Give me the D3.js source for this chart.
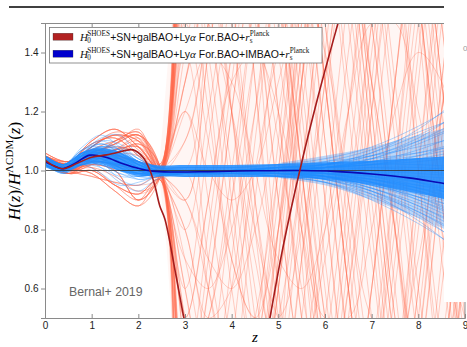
<!DOCTYPE html>
<html><head><meta charset="utf-8">
<script src="https://cdn.jsdelivr.net/npm/d3@7"></script>
<style>html,body{margin:0;padding:0;background:#fff;} svg{display:block;} text{white-space:pre;}</style>
</head><body>
<svg id="chart" width="467" height="347"></svg>
<script>
// ---- reconstruction knots (redshift grid) ----
const zBlue = [0, 0.4, 0.8, 1.2, 1.6, 2.0, 2.4, 3, 4, 5, 6, 7, 8, 9];
const zRed  = [0, 0.5, 1, 1.5, 2, 2.45, 3, 3.5, 4, 4.5, 5, 5.5, 6, 6.5, 7, 7.5, 8, 8.5, 9];

// posterior samples, H0(SHOES)+SN+galBAO+Lya+IMBAO+rs(Planck)
const blueSamples = [
  [1.04,1.01,1.05,1.07,1.05,1.02,1.00,1.00,1.00,1.01,1.02,1.05,1.10,1.16],
  [1.02,1.00,1.03,1.04,1.01,0.99,0.99,0.99,0.99,0.99,0.98,0.95,0.90,0.84],
  [1.05,1.02,1.07,1.09,1.06,1.03,1.01,1.01,1.01,1.02,1.04,1.08,1.15,1.24],
  [1.03,1.00,1.02,1.02,0.99,0.98,0.99,0.98,0.99,0.98,0.96,0.91,0.84,0.75],
  [1.04,1.01,1.06,1.08,1.07,1.03,1.00,1.00,1.00,1.00,1.00,1.00,0.99,0.98],
  [1.02,0.99,1.02,1.03,1.02,1.00,0.99,0.99,1.00,1.00,1.01,1.02,1.04,1.07],
  [1.03,1.01,1.04,1.06,1.01,0.97,0.98,0.99,0.99,0.99,0.99,0.97,0.93,0.88],
  [1.05,1.02,1.06,1.04,1.00,0.98,0.99,1.00,1.00,1.01,1.01,1.00,0.96,0.90],
  [1.03,1.00,1.05,1.10,1.09,1.04,1.01,1.00,1.00,1.00,0.99,0.97,0.95,0.93],
  [1.04,1.01,1.03,1.02,1.00,0.99,0.99,0.99,0.99,1.00,1.02,1.06,1.12,1.20],
  [1.02,1.00,1.04,1.05,1.04,1.01,1.00,0.99,0.99,0.98,0.97,0.94,0.88,0.80],
  [1.04,1.02,1.05,1.03,0.97,0.95,0.98,0.99,1.00,1.00,1.00,0.98,0.94,0.89],
  [1.03,1.01,1.06,1.11,1.12,1.05,1.01,1.00,1.00,1.01,1.01,1.02,1.03,1.05],
  [1.05,1.01,1.03,1.03,1.01,1.00,1.00,1.00,1.00,0.99,0.97,0.93,0.87,0.79],
  [1.03,1.00,1.04,1.06,1.04,1.02,1.00,1.00,1.00,1.01,1.03,1.07,1.13,1.19],
  [1.04,1.01,1.05,1.06,1.02,0.99,0.99,0.99,0.99,0.99,0.98,0.96,0.92,0.86],
  [1.02,0.99,1.03,1.05,1.06,1.03,1.00,1.00,1.00,1.00,1.00,0.99,0.97,0.94],
  [1.04,1.01,1.04,1.01,0.96,0.93,0.97,0.99,0.99,0.99,0.98,0.95,0.91,0.85],
  [1.05,1.02,1.06,1.07,1.05,1.03,1.01,1.01,1.01,1.01,1.02,1.04,1.06,1.09],
  [1.03,1.00,1.02,1.04,1.03,1.00,0.99,0.99,0.99,0.99,0.99,0.99,1.00,1.02],
  [1.04,1.01,1.05,1.07,1.06,1.01,0.99,0.99,1.00,1.00,0.98,0.93,0.85,0.74],
  [1.03,1.01,1.04,1.03,1.02,1.01,1.00,1.00,1.00,1.01,1.02,1.03,1.04,1.05],
  [1.04,1.00,1.06,1.09,1.07,1.02,1.00,0.99,0.99,0.99,0.98,0.96,0.93,0.89],
  [1.02,1.00,1.02,1.01,0.98,0.98,0.99,1.00,1.00,1.00,1.01,1.04,1.09,1.16],
  [1.05,1.02,1.07,1.08,1.04,1.00,0.99,0.99,0.99,0.98,0.96,0.92,0.86,0.78],
  [1.03,1.01,1.04,1.05,1.03,1.00,0.99,1.00,1.00,1.00,1.00,1.01,1.01,1.00],
  [1.04,1.01,1.05,1.06,1.05,1.02,1.00,0.99,0.99,0.99,0.99,0.98,0.97,0.96],
  [1.03,1.00,1.03,1.02,0.99,0.97,0.98,0.99,0.99,0.98,0.96,0.90,0.82,0.72],
  [1.04,1.02,1.06,1.08,1.08,1.04,1.01,1.01,1.01,1.02,1.03,1.05,1.08,1.12],
  [1.03,1.00,1.04,1.05,1.01,0.98,0.99,0.99,1.00,1.00,0.99,0.97,0.94,0.90],
  [1.04,1.01,1.03,1.05,1.07,1.04,1.01,1.00,1.00,1.00,1.01,1.02,1.02,1.01],
  [1.02,0.99,1.04,1.07,1.03,0.98,0.98,0.99,0.99,0.99,0.98,0.94,0.89,0.82],
  [1.05,1.02,1.05,1.04,1.02,1.01,1.00,1.00,1.00,1.00,1.01,1.03,1.07,1.13],
  [1.03,1.01,1.05,1.08,1.06,1.02,1.00,1.00,0.99,0.99,0.97,0.95,0.91,0.87],
  [1.04,1.00,1.03,1.03,1.02,1.00,0.99,0.99,0.99,1.00,1.00,0.98,0.95,0.91],
  [1.03,1.01,1.05,1.06,1.04,1.01,1.00,1.00,1.00,1.00,1.01,1.04,1.10,1.18],
  [1.04,1.01,1.02,0.99,0.95,0.96,0.98,0.99,1.00,1.00,0.99,0.96,0.90,0.83],
  [1.05,1.02,1.08,1.12,1.08,1.03,1.00,1.00,1.00,1.00,0.98,0.95,0.92,0.88],
  [1.03,1.00,1.04,1.04,1.03,1.01,1.00,1.00,1.00,1.01,1.02,1.06,1.14,1.26],
  [1.04,1.01,1.04,1.06,1.05,1.01,0.99,0.99,0.99,0.99,0.97,0.92,0.83,0.71],
  [1.03,1.01,1.05,1.07,1.04,1.01,1.00,1.00,1.00,1.00,1.01,1.03,1.06,1.10],
  [1.04,1.00,1.04,1.05,1.03,1.00,0.99,0.99,0.99,0.99,0.98,0.97,0.94,0.92],
  [1.05,1.02,1.06,1.06,1.02,0.99,0.99,0.99,1.00,1.00,1.00,0.99,0.98,0.97],
  [1.03,1.01,1.04,1.08,1.07,1.03,1.00,1.00,1.00,1.00,0.99,0.96,0.91,0.84],
  [1.04,1.01,1.05,1.04,1.01,0.99,0.99,1.00,1.00,1.01,1.02,1.05,1.11,1.21],
  [1.02,1.00,1.03,1.05,1.04,1.01,1.00,0.99,0.99,0.99,0.97,0.93,0.86,0.77],
  [1.05,1.02,1.06,1.09,1.06,1.02,1.00,1.00,1.00,1.01,1.01,1.01,1.00,0.98],
  [1.03,1.00,1.03,1.03,1.01,0.99,0.99,0.99,0.99,0.99,0.99,0.98,0.96,0.93],
  [1.04,1.01,1.05,1.06,1.03,1.00,0.99,1.00,1.00,1.00,1.01,1.03,1.05,1.08],
  [1.03,1.01,1.04,1.05,1.05,1.02,1.00,0.99,0.99,0.99,0.98,0.94,0.88,0.81],
  [1.04,1.02,1.07,1.10,1.07,1.02,1.00,1.00,1.00,1.00,1.00,0.99,0.96,0.92],
  [1.03,1.00,1.02,1.02,1.00,0.99,0.99,0.99,1.00,1.00,1.01,1.02,1.05,1.10]
];

// posterior samples, H0(SHOES)+SN+galBAO+Lya+rs(Planck)
const redSamples = [
  [1.04,1.01,1.05,1.07,1.08,1.00,  2.0, 2.6, 2.9, 2.8, 2.3, 1.6, 0.9, 0.2,-0.3,-0.5,-0.3, 0.3, 1.0],
  [1.05,1.02,1.08,1.12,1.10,0.99,  0.0,-0.5,-0.7,-0.5, 0.0, 0.7, 1.4, 2.0, 2.5, 2.7, 2.5, 2.0, 1.3],
  [1.03,1.00,1.03,1.02,1.00,0.98,  1.6, 2.2, 2.6, 2.7, 2.4, 1.8, 1.1, 0.4,-0.1,-0.3,-0.1, 0.4, 1.1],
  [1.04,0.99,1.00,0.95,0.92,0.97,  0.4, 0.0,-0.1, 0.2, 0.8, 1.5, 2.2, 2.7, 2.9, 2.7, 2.2, 1.5, 0.8],
  [1.06,1.03,1.10,1.14,1.08,1.01,  2.6, 3.0, 2.9, 2.4, 1.7, 1.0, 0.3,-0.2,-0.4,-0.2, 0.4, 1.1, 1.8],
  [1.03,1.02,1.06,1.09,1.12,1.02, -0.6,-1.0,-0.9,-0.4, 0.3, 1.0, 1.7, 2.3, 2.6, 2.5, 2.0, 1.3, 0.6],
  [1.04,1.00,1.02,1.00,0.90,0.98,  1.3, 1.8, 2.2, 2.3, 2.0, 1.4, 0.7, 0.1,-0.3,-0.4, 0.0, 0.7, 1.4],
  [1.05,1.02,1.07,1.05,1.03,1.00,  0.7, 0.3, 0.1, 0.3, 0.8, 1.4, 2.0, 2.4, 2.5, 2.2, 1.6, 0.9, 0.3],
  [1.02,0.99,1.04,1.10,1.13,1.01,  1.9, 1.5, 1.0, 0.4,-0.1,-0.4,-0.4, 0.0, 0.6, 1.3, 2.0, 2.5, 2.7],
  [1.04,1.01,0.99,0.93,0.88,0.97,  0.3, 0.8, 1.4, 2.0, 2.4, 2.6, 2.4, 1.9, 1.2, 0.5, 0.0,-0.3,-0.2],
  [1.05,1.03,1.09,1.11,1.05,0.99,  3.0, 2.8, 2.3, 1.6, 0.9, 0.3,-0.1,-0.2, 0.1, 0.7, 1.4, 2.1, 2.5],
  [1.03,1.00,1.04,1.06,1.09,1.02, -1.2,-0.9,-0.3, 0.4, 1.1, 1.8, 2.3, 2.5, 2.3, 1.8, 1.1, 0.4,-0.1],
  [1.04,1.01,1.05,1.07,1.08,1.00,  1.4, 0.9, 0.4, 0.0,-0.2, 0.0, 0.5, 1.2, 1.9, 2.4, 2.6, 2.4, 1.9],
  [1.05,1.02,1.08,1.12,1.10,0.99,  0.9, 1.4, 1.9, 2.3, 2.4, 2.1, 1.5, 0.8, 0.2,-0.2,-0.2, 0.2, 0.9],
  [1.03,1.00,1.03,1.02,1.00,0.98,  2.2, 1.6, 0.9, 0.3,-0.1,-0.2, 0.1, 0.7, 1.4, 2.0, 2.4, 2.4, 2.0],
  [1.04,0.99,1.00,0.95,0.92,0.97,  0.1, 0.6, 1.2, 1.8, 2.3, 2.5, 2.3, 1.8, 1.1, 0.4,-0.1,-0.3, 0.0],
  [1.06,1.03,1.10,1.14,1.08,1.01,  1.7, 2.3, 2.6, 2.5, 2.0, 1.3, 0.6, 0.0,-0.3,-0.2, 0.3, 1.0, 1.7],
  [1.03,1.02,1.06,1.09,1.12,1.02,  0.5, 0.9, 1.4, 1.9, 2.2, 2.2, 1.9, 1.3, 0.7, 0.1,-0.2,-0.2, 0.2],
  [1.04,1.00,1.02,1.00,0.90,0.98,  2.7, 2.2, 1.5, 0.8, 0.2,-0.2,-0.3, 0.0, 0.6, 1.3, 1.9, 2.3, 2.4],
  [1.05,1.02,1.07,1.05,1.03,1.00, -0.7,-0.4, 0.2, 0.9, 1.5, 2.0, 2.2, 2.0, 1.5, 0.8, 0.2,-0.2,-0.3],
  [1.02,0.99,1.04,1.10,1.13,1.01,  1.0, 0.6, 0.2,-0.1,-0.1, 0.3, 0.9, 1.6, 2.2, 2.5, 2.4, 1.9, 1.2],
  [1.04,1.01,0.99,0.93,0.88,0.97,  1.8, 2.1, 2.1, 1.8, 1.2, 0.5,-0.1,-0.4,-0.3, 0.2, 0.9, 1.6, 2.1],
  [1.05,1.03,1.09,1.11,1.05,0.99,  0.2, 0.6, 1.2, 1.8, 2.3, 2.5, 2.3, 1.7, 1.0, 0.3,-0.2,-0.3, 0.0],
  [1.03,1.00,1.04,1.06,1.09,1.02,  2.3, 2.7, 2.7, 2.3, 1.6, 0.8, 0.1,-0.4,-0.5,-0.2, 0.4, 1.2, 1.9],
  [1.04,1.01,1.05,1.07,1.08,1.00,  0.6, 0.2, 0.0, 0.1, 0.6, 1.2, 1.9, 2.4, 2.6, 2.4, 1.8, 1.1, 0.4],
  [1.05,1.02,1.08,1.12,1.10,0.99,  1.3, 1.7, 2.1, 2.3, 2.2, 1.8, 1.1, 0.4,-0.2,-0.5,-0.4, 0.1, 0.8],
  [1.03,1.00,1.03,1.02,1.00,0.98, -0.3, 0.1, 0.7, 1.4, 2.0, 2.4, 2.5, 2.2, 1.6, 0.9, 0.2,-0.3,-0.5],
  [1.04,0.99,1.00,0.95,0.92,0.97,  3.3, 2.8, 2.1, 1.3, 0.6, 0.1,-0.1, 0.1, 0.6, 1.3, 2.0, 2.5, 2.7],
  [1.06,1.03,1.10,1.14,1.08,1.01,  1.1, 1.5, 1.9, 2.2, 2.2, 1.9, 1.3, 0.6, 0.0,-0.3,-0.3, 0.1, 0.7],
  [1.03,1.02,1.06,1.09,1.12,1.02,  0.2,-0.3,-0.5,-0.3, 0.2, 0.9, 1.6, 2.2, 2.5, 2.4, 1.9, 1.2, 0.5],
  [1.04,1.00,1.02,1.00,0.90,0.98,  1.9, 1.4, 0.8, 0.3, 0.0, 0.0, 0.4, 1.0, 1.7, 2.3, 2.6, 2.5, 2.0],
  [1.05,1.02,1.07,1.05,1.03,1.00,  0.9, 1.4, 1.9, 2.3, 2.5, 2.4, 1.9, 1.2, 0.5,-0.1,-0.4,-0.3, 0.2],
  [1.02,0.99,1.04,1.10,1.13,1.01,  2.1, 2.5, 2.6, 2.3, 1.7, 1.0, 0.3,-0.2,-0.3, 0.0, 0.6, 1.3, 2.0],
  [1.04,1.01,0.99,0.93,0.88,0.97,  0.5, 0.1,-0.1, 0.1, 0.6, 1.3, 2.0, 2.5, 2.7, 2.5, 2.0, 1.3, 0.6],
  [1.05,1.03,1.09,1.11,1.05,0.99,  1.5, 1.9, 2.1, 2.0, 1.6, 1.0, 0.4,-0.1,-0.3,-0.1, 0.5, 1.2, 1.8],
  [1.03,1.00,1.04,1.06,1.09,1.02, -0.5,-0.2, 0.4, 1.1, 1.7, 2.2, 2.4, 2.3, 1.8, 1.1, 0.4,-0.1,-0.3],
  [1.04,1.01,1.05,1.07,1.08,1.00,  2.5, 2.9, 2.9, 2.5, 1.9, 1.2, 0.5, 0.0,-0.2, 0.0, 0.6, 1.3, 2.0],
  [1.05,1.02,1.08,1.12,1.10,0.99,  0.8, 0.4, 0.2, 0.4, 0.9, 1.5, 2.1, 2.5, 2.6, 2.3, 1.7, 1.0, 0.3],
  [1.03,1.00,1.03,1.02,1.00,0.98,  1.7, 1.2, 0.6, 0.1,-0.2,-0.2, 0.2, 0.8, 1.5, 2.1, 2.5, 2.5, 2.1],
  [1.04,0.99,1.00,0.95,0.92,0.97,  0.2, 0.7, 1.3, 1.9, 2.3, 2.4, 2.1, 1.5, 0.8, 0.1,-0.3,-0.4,-0.1],
  [1.06,1.03,1.10,1.14,1.08,1.01,  1.2, 0.7, 0.3, 0.1, 0.2, 0.7, 1.3, 1.9, 2.4, 2.6, 2.4, 1.8, 1.1],
  [1.03,1.02,1.06,1.09,1.12,1.02,  2.8, 3.1, 2.9, 2.4, 1.7, 1.0, 0.4, 0.0,-0.1, 0.2, 0.8, 1.5, 2.1],
  [1.04,1.00,1.02,1.00,0.90,0.98, -0.8,-1.0,-0.7,-0.1, 0.6, 1.3, 2.0, 2.4, 2.5, 2.2, 1.6, 0.9, 0.3],
  [1.05,1.02,1.07,1.05,1.03,1.00,  1.6, 2.0, 2.2, 2.1, 1.7, 1.1, 0.5, 0.0,-0.2,-0.1, 0.3, 1.0, 1.7],
  [1.02,0.99,1.04,1.10,1.13,1.01,  0.6, 1.1, 1.6, 2.0, 2.2, 2.0, 1.5, 0.9, 0.3,-0.1,-0.2, 0.1, 0.7],
  [1.04,1.01,0.99,0.93,0.88,0.97,  2.3, 1.8, 1.2, 0.6, 0.2, 0.1, 0.3, 0.9, 1.5, 2.1, 2.5, 2.5, 2.2],
  [1.05,1.03,1.09,1.11,1.05,0.99,  1.1, 1.5, 1.9, 2.2, 2.3, 2.0, 1.4, 0.7, 0.1,-0.3,-0.4,-0.1, 0.5],
  [1.03,1.00,1.04,1.06,1.09,1.02,  0.4, 0.0,-0.1, 0.2, 0.7, 1.4, 2.0, 2.4, 2.5, 2.2, 1.6, 0.9, 0.2],
  [1.04,1.01,1.05,1.07,1.08,1.00,  1.2, 1.4, 1.3, 1.0, 0.7, 0.6, 0.8, 1.2, 1.5, 1.5, 1.2, 0.8, 0.5],
  [1.05,1.02,1.08,1.12,1.10,0.99,  0.8, 0.5, 0.6, 1.0, 1.4, 1.6, 1.4, 0.9, 0.5, 0.4, 0.7, 1.2, 1.6],
  [1.03,1.00,1.03,1.02,1.00,0.98,  1.9, 1.3, 0.7, 0.5, 0.8, 1.3, 1.7, 1.7, 1.3, 0.8, 0.4, 0.4, 0.8],
  [1.04,0.99,1.00,0.95,0.92,0.97,  0.5, 0.9, 1.3, 1.4, 1.2, 0.8, 0.5, 0.5, 0.8, 1.2, 1.4, 1.3, 1.0],
  [1.06,1.03,1.10,1.14,1.08,1.01,  3.6, 3.4, 2.6, 1.6, 0.6,-0.2,-0.6,-0.4, 0.2, 1.0, 1.8, 2.4, 2.6],
  [1.03,1.02,1.06,1.09,1.12,1.02, -1.6,-1.9,-1.3,-0.3, 0.7, 1.6, 2.3, 2.6, 2.4, 1.8, 1.0, 0.2,-0.4],
  [1.04,1.00,1.02,1.00,0.90,0.98,  3.0, 3.5, 3.4, 2.7, 1.7, 0.7,-0.1,-0.5,-0.4, 0.2, 1.0, 1.8, 2.4],
  [1.05,1.02,1.07,1.05,1.03,1.00, -1.2,-1.6,-1.4,-0.7, 0.3, 1.3, 2.1, 2.6, 2.7, 2.3, 1.6, 0.8, 0.1],
  [1.03,1.02,1.06,1.08,1.06,0.99,  1.4, 1.9, 2.4, 2.6, 2.5, 2.0, 1.3, 0.6, 0.0,-0.3,-0.2, 0.3, 1.0],
  [1.04,1.01,1.07,1.10,1.12,1.01,  0.6, 0.1,-0.3,-0.4,-0.1, 0.5, 1.2, 1.9, 2.4, 2.6, 2.4, 1.8, 1.1],
  [1.02,0.99,1.02,1.04,1.03,0.99,  2.1, 2.3, 2.1, 1.6, 0.9, 0.3,-0.1,-0.2, 0.2, 0.9, 1.6, 2.2, 2.4],
  [1.05,1.00,0.98,0.96,0.95,0.98,  0.9, 0.6, 0.3, 0.2, 0.5, 1.0, 1.7, 2.3, 2.6, 2.5, 2.0, 1.3, 0.6],
  [1.05,1.02,1.08,1.13,1.11,1.00,  1.8, 2.4, 2.8, 2.8, 2.4, 1.7, 0.9, 0.2,-0.2,-0.3, 0.0, 0.6, 1.3],
  [1.04,1.02,1.05,1.07,1.10,1.01,  0.3, 0.5, 1.0, 1.6, 2.1, 2.4, 2.3, 1.8, 1.1, 0.4,-0.1,-0.3,-0.1],
  [1.03,1.00,1.01,0.98,0.93,0.97,  2.4, 1.9, 1.2, 0.5, 0.0,-0.2, 0.0, 0.5, 1.2, 1.9, 2.4, 2.6, 2.4],
  [1.04,1.01,1.06,1.06,1.05,1.00, -0.2,-0.5,-0.4, 0.1, 0.8, 1.6, 2.2, 2.6, 2.6, 2.2, 1.5, 0.7, 0.1],
  [1.03,1.00,1.05,1.09,1.14,1.02,  1.5, 1.1, 0.7, 0.5, 0.5, 0.8, 1.3, 1.9, 2.3, 2.4, 2.1, 1.5, 0.8],
  [1.05,1.02,1.01,0.95,0.90,0.98,  1.0, 1.5, 2.0, 2.3, 2.3, 1.9, 1.3, 0.6, 0.0,-0.3,-0.2, 0.3, 1.0],
  [1.04,1.02,1.08,1.12,1.07,1.00,  2.7, 3.0, 2.7, 2.0, 1.2, 0.5, 0.0,-0.2, 0.0, 0.6, 1.3, 2.0, 2.4],
  [1.02,1.00,1.03,1.07,1.11,1.01, -0.4,-0.6,-0.3, 0.3, 1.0, 1.7, 2.2, 2.4, 2.2, 1.7, 1.0, 0.3,-0.2],
  [1.03,1.02,1.06,1.08,1.06,0.99,  1.3, 1.6, 1.7, 1.5, 1.1, 0.6, 0.2, 0.1, 0.4, 1.0, 1.7, 2.2, 2.4],
  [1.04,1.01,1.07,1.10,1.12,1.01,  0.7, 0.6, 0.8, 1.2, 1.7, 2.1, 2.2, 1.9, 1.3, 0.6, 0.0,-0.3,-0.2],
  [1.02,0.99,1.02,1.04,1.03,0.99,  2.0, 1.7, 1.2, 0.7, 0.4, 0.4, 0.8, 1.4, 2.0, 2.3, 2.2, 1.7, 1.0],
  [1.05,1.00,0.98,0.96,0.95,0.98,  0.3, 0.5, 0.9, 1.4, 1.9, 2.2, 2.1, 1.6, 0.9, 0.2,-0.3,-0.4,-0.1],
  [1.05,1.02,1.08,1.13,1.11,1.00,  1.6, 1.5, 1.2, 0.8, 0.5, 0.4, 0.7, 1.2, 1.8, 2.2, 2.3, 1.9, 1.3],
  [1.04,1.02,1.05,1.07,1.10,1.01,  0.8, 1.2, 1.7, 2.1, 2.2, 1.9, 1.3, 0.6, 0.0,-0.4,-0.4, 0.0, 0.7],
  [1.03,1.00,1.01,0.98,0.93,0.97,  2.2, 2.0, 1.5, 0.9, 0.4, 0.1, 0.2, 0.6, 1.2, 1.8, 2.2, 2.2, 1.8],
  [1.04,1.01,1.06,1.06,1.05,1.00,  0.1, 0.2, 0.6, 1.2, 1.8, 2.3, 2.4, 2.1, 1.5, 0.8, 0.1,-0.3,-0.4],
  [1.03,1.00,1.05,1.09,1.14,1.02,  1.2, 1.0, 0.9, 1.0, 1.3, 1.6, 1.8, 1.7, 1.3, 0.8, 0.3, 0.1, 0.3],
  [1.05,1.02,1.01,0.95,0.90,0.98,  1.8, 2.3, 2.5, 2.2, 1.6, 0.9, 0.3,-0.1,-0.1, 0.3, 1.0, 1.7, 2.2],
  [1.04,1.02,1.08,1.12,1.07,1.00,  0.5, 0.2, 0.2, 0.5, 1.0, 1.6, 2.0, 2.1, 1.8, 1.2, 0.5, 0.0,-0.2],
  [1.02,1.00,1.03,1.07,1.11,1.01,  2.5, 2.2, 1.6, 0.9, 0.3, 0.0, 0.1, 0.6, 1.3, 2.0, 2.5, 2.6, 2.2],
  [1.03,1.02,1.06,1.08,1.06,0.99,  0.0, 0.3, 0.9, 1.6, 2.2, 2.5, 2.4, 1.9, 1.2, 0.5, 0.0,-0.2, 0.0],
  [1.04,1.01,1.07,1.10,1.12,1.01,  1.7, 2.1, 2.2, 1.9, 1.4, 0.8, 0.3, 0.1, 0.3, 0.8, 1.5, 2.1, 2.4],
  [1.02,0.99,1.02,1.04,1.03,0.99,  0.9, 0.7, 0.6, 0.8, 1.2, 1.7, 2.1, 2.2, 1.9, 1.3, 0.6, 0.1,-0.1],
  [1.05,1.00,0.98,0.96,0.95,0.98,  3.4, 3.0, 2.2, 1.3, 0.5, 0.0,-0.1, 0.3, 1.0, 1.7, 2.3, 2.5, 2.3]
];

// dense core of the IMBAO posterior
const blueCoreLo = [1.012,0.993,1.018,1.022,0.998,0.982,0.981,0.978,0.978,0.977,0.97,0.952,0.922,0.888];
const blueCoreHi = [1.052,1.022,1.062,1.077,1.062,1.033,1.018,1.019,1.019,1.022,1.028,1.033,1.042,1.052];
// wider spread of the IMBAO posterior at high redshift
const zFan  = [5, 6, 7, 8, 9];
const fanLo = [0.975, 0.95, 0.9, 0.84, 0.77];
const fanHi = [1.025, 1.05, 1.08, 1.12, 1.16];

// light haze of the unconstrained posterior beyond z ~ 2.5
const zHaze  = [2.45, 2.6, 2.8, 9];
const hazeLo = [0.98, 0.75, 0.3, 0.3];
const hazeHi = [1.02, 1.3, 1.7, 1.7];

// best-fit reconstructions
const zMeanBlue = [0, 0.2, 0.36, 0.6, 0.96, 1.3, 1.67, 2.03, 2.3, 2.7, 3.5, 4.5, 5.5, 6.2, 7, 7.8, 8.55, 9];
const meanBlue  = [1.03, 1.015, 1.006, 1.02, 1.052, 1.045, 1.023, 1.006, 0.998, 0.995, 0.996, 0.999, 1.0, 0.997, 0.988, 0.975, 0.956, 0.946];
const zMeanRed  = [0, 0.2, 0.4, 0.7, 1.0, 1.32, 1.53, 1.89, 2.1, 2.25, 2.36, 2.46, 2.57, 2.8, 3.0, 3.3, 3.7, 4.1, 4.5, 4.82, 5.1, 5.46, 5.85, 6.28, 6.6];
const meanRed   = [1.035, 1.015, 1.006, 1.025, 1.045, 1.053, 1.06, 1.07, 1.045, 1.0, 0.945, 0.88, 0.835, 0.65, 0.48, 0.25, 0.08, 0.06, 0.22, 0.5, 0.74, 1.0, 1.25, 1.5, 1.68];

const xTicks = [0, 1, 2, 3, 4, 5, 6, 7, 8, 9];
const yTicks = [0.6, 0.8, 1.0, 1.2, 1.4];

const legendLabels = [
  {color: "#b22222", mid: "+SN+galBAO+Ly", tail: " For.BAO+"},
  {color: "#0000cd", mid: "+SN+galBAO+Ly", tail: " For.BAO+IMBAO+"}
];

// ---- drawing ----
const svg = d3.select("#chart");
const x = d3.scaleLinear().domain([0, 9]).range([45, 465]);
const y = d3.scaleLinear().domain([0.5, 1.5]).range([318, 23]);
const SANS = "'Liberation Sans', Arial, sans-serif";
const SERIF = "'Liberation Serif', 'Times New Roman', serif";

svg.append("defs").append("clipPath").attr("id", "plotclip")
  .append("rect").attr("x", x(0)).attr("y", y(1.5))
  .attr("width", x(9) - x(0)).attr("height", y(0.5) - y(1.5));

const plot = svg.append("g").attr("clip-path", "url(#plotclip)");
const curve = d3.curveCatmullRom.alpha(0.5);
const line = d3.line().x(d => x(d[0])).y(d => y(d[1])).curve(curve);
const zip = (zs, vs) => zs.map((z, i) => [z, vs[i]]);
const band = (zs, lo, hi, c) => d3.area().curve(c)
  .x((d, i) => x(zs[i])).y0((d, i) => y(lo[i])).y1((d, i) => y(hi[i]))(zs);

plot.append("path").attr("d", band(zHaze, hazeLo, hazeHi, d3.curveLinear))
  .attr("fill", "#ff6347").attr("fill-opacity", 0.06);

plot.append("g").selectAll("path").data(redSamples).join("path")
  .attr("d", s => line(zip(zRed, s)))
  .attr("fill", "none").attr("stroke", "#ff6347")
  .attr("stroke-width", 0.75).attr("stroke-opacity", 0.4);

plot.append("path").attr("d", band(zFan, fanLo, fanHi, curve))
  .attr("fill", "#1e8cff").attr("fill-opacity", 0.3);
plot.append("path").attr("d", band(zBlue, blueCoreLo, blueCoreHi, curve))
  .attr("fill", "#1e8cff").attr("fill-opacity", 0.85);

plot.append("g").selectAll("path").data(blueSamples).join("path")
  .attr("d", s => line(zip(zBlue, s)))
  .attr("fill", "none").attr("stroke", "#1e8cff")
  .attr("stroke-width", 0.8).attr("stroke-opacity", 0.45);

plot.append("line").attr("x1", x(0)).attr("x2", x(9)).attr("y1", y(1)).attr("y2", y(1))
  .attr("stroke", "#333").attr("stroke-width", 0.8);

plot.append("path").attr("d", line(zip(zMeanBlue, meanBlue)))
  .attr("fill", "none").attr("stroke", "#0a0ab4").attr("stroke-width", 1.6);
plot.append("path").attr("d", line(zip(zMeanRed, meanRed)))
  .attr("fill", "none").attr("stroke", "#a51c1c").attr("stroke-width", 1.6);

// axes
const spine = "#8a8a8a";
const xAxis = svg.append("g").attr("transform", `translate(0,${y(0.5)})`)
  .call(d3.axisBottom(x).tickValues(xTicks).tickSize(-4).tickPadding(3.5).tickFormat(d3.format("d")));
const xTop = svg.append("g").attr("transform", `translate(0,${y(1.5)})`)
  .call(d3.axisTop(x).tickValues(xTicks).tickSize(-4).tickFormat(""));
const yAxis = svg.append("g").attr("transform", `translate(${x(0)},0)`)
  .call(d3.axisLeft(y).tickValues(yTicks).tickSize(4).tickPadding(2.5).tickFormat(d3.format(".1f")));
svg.append("line").attr("x1", x(9)).attr("x2", x(9)).attr("y1", y(1.5)).attr("y2", y(0.5)).attr("stroke", spine);
[xAxis, xTop, yAxis].forEach(a => {
  a.select(".domain").attr("stroke", spine);
  a.selectAll(".tick line").attr("stroke", spine);
  a.selectAll(".tick text").attr("fill", "#222").style("font-family", SANS).style("font-size", "10px");
});

// axis labels
svg.append("text").attr("x", x(4.5)).attr("y", 342).attr("text-anchor", "middle")
  .style("font-family", SERIF).style("font-style", "italic").style("font-size", "15px").text("z");

const yl = svg.append("text").attr("transform", "translate(20,171) rotate(-90)")
  .attr("text-anchor", "middle").style("font-family", SERIF).style("font-size", "17px");
yl.append("tspan").style("font-style", "italic").text("H");
yl.append("tspan").text("(");
yl.append("tspan").style("font-style", "italic").text("z");
yl.append("tspan").text(")/");
yl.append("tspan").style("font-style", "italic").text("H");
yl.append("tspan").attr("dy", -7).style("font-size", "11px").text("ΛCDM");
yl.append("tspan").attr("dy", 7).text("(");
yl.append("tspan").style("font-style", "italic").text("z");
yl.append("tspan").text(")");

// annotation
svg.append("text").attr("x", 69).attr("y", 296).attr("fill", "#666")
  .style("font-family", SANS).style("font-size", "12.3px").text("Bernal+ 2019");

// legend
const lg = svg.append("g");
lg.append("rect").attr("x", 49.5).attr("y", 27.5).attr("width", 272.5).attr("height", 35.5)
  .attr("fill", "#fff").attr("stroke", "#777").attr("stroke-width", 0.8);

function piece(g, px, py, txt, fam, size, italic) {
  const t = g.append("text").attr("x", px).attr("y", py)
    .style("font-family", fam).style("font-size", size + "px")
    .style("font-style", italic ? "italic" : "normal").attr("fill", "#111").text(txt);
  return t.node().getComputedTextLength();
}
function stacked(g, px, py, sup, sub) {
  const a = piece(g, px, py - 4.3, sup, SERIF, 7.2, false);
  const b = piece(g, px, py + 2.2, sub, SERIF, 7.2, false);
  return Math.max(a, b);
}
legendLabels.forEach((d, i) => {
  const by = 40.5 + i * 17;
  lg.append("rect").attr("x", 53).attr("y", by - 7.3).attr("width", 20).attr("height", 7)
    .attr("fill", d.color).attr("stroke", "#333").attr("stroke-width", 0.3);
  let cx = 80;
  cx += piece(lg, cx, by, "H", SERIF, 11, true) - 0.8;
  cx += stacked(lg, cx, by, "SHOES", "0") + 0.3;
  cx += piece(lg, cx, by, d.mid, SANS, 10.5, false);
  cx += piece(lg, cx, by, "α", SERIF, 11, true);
  cx += piece(lg, cx, by, d.tail, SANS, 10.5, false);
  cx += piece(lg, cx, by, "r", SERIF, 11, true) + 0.3;
  stacked(lg, cx, by, "Planck", "s");
});

// neighbouring panel edge
svg.append("rect").attr("x", 444).attr("y", 0).attr("width", 23).attr("height", 302).attr("fill", "#fff");
svg.append("text").attr("x", 463).attr("y", 51).attr("fill", "#999")
  .style("font-family", SANS).style("font-size", "8px").text("0");

// header rule
svg.append("line").attr("x1", 9).attr("x2", 444).attr("y1", 7).attr("y2", 7)
  .attr("stroke", "#000").attr("stroke-width", 1.5);
</script>
</body></html>
